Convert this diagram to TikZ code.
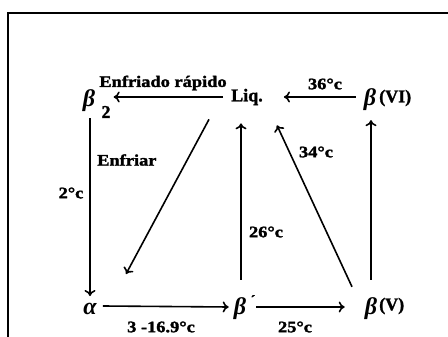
\documentclass[tikz,border=0pt]{standalone}
\usepackage{fontspec}
\setmainfont{Liberation Serif}[BoldFeatures={FakeBold=1.6}]
\newfontfamily\widefont{Liberation Serif}[FakeStretch=1.15,BoldFeatures={FakeBold=1.8}]
\usetikzlibrary{arrows.meta,calc}
\tikzset{
  lbl/.style={font=\fontsize{18}{20}\selectfont\bfseries, inner sep=0pt},
  sym/.style={font=\fontsize{24}{26}\selectfont\bfseries\itshape, inner sep=0pt},
  elbl/.style={font=\widefont\fontsize{16}{18}\selectfont\bfseries, inner sep=0pt},
  arr/.style={line width=1.6pt, -{To[length=6pt,width=11pt,line width=1.6pt]}},
  frame/.style={line width=1.3pt}
}
\begin{document}
\begin{tikzpicture}[x=1pt,y=-1pt]
\useasboundingbox (0,0) rectangle (448,337);
\draw[frame] (8,337) -- (8,13) -- (448,13);
% nodes
\node[sym] (b2) at (89,101) {β};
\node[lbl] (b2s) at (106,112) {2};
\node[lbl] (liq) at (247,97) {Liq.};
\node[sym] (b6) at (370,100) {β};
\node[lbl,anchor=west] (b6t) at (379,98) {(VI)};
\node[sym] (al) at (90,309) {α};
\node[sym] (bp) at (240,309) {β};
\node[lbl] (bpp) at (253,300) {\fontsize{14}{14}\selectfont ´};
\node[sym] (b5) at (371,309) {β};
\node[lbl,anchor=west] (b5t) at (379,306) {(V)};
% labels
\node[elbl] (l1) at (163,83) {Enfriado rápido};
\node[elbl] (l2) at (325,84) {36°c};
\node[elbl,anchor=west] (l3) at (97,160) {Enfriar};
\node[elbl] (l4) at (71,193) {2°c};
\node[elbl] (l5) at (266,232) {26°c};
\node[elbl] (l6) at (316,152) {34°c};
\node[elbl] (l7) at (161,327) {3 -16.9°c};
\node[elbl] (l8) at (295,327) {25°c};
% connectors
\draw[arr] ($(liq.west)+(-8,0)$) -- ($(b2s.east)+(3,-15)$);
\draw[arr] ($(b6.west)+(-8,-3)$) -- ($(liq.east)+(21,0)$);
\draw[arr] ($(b2.south)+(1,6)$) -- ($(al.north)+(0,-7)$);
\draw[arr] ($(liq.south)+(-38,14)$) -- ($(al.north)+(36,-29)$);
\draw[arr] ($(bp.north)+(1,-18)$) -- ($(liq.south)+(-6,18)$);
\draw[arr] ($(b5.north)+(-19,-11)$) -- ($(liq.south)+(30,20)$);
\draw[arr] ($(b5.north)+(0,-18)$) -- ($(b6.south)+(1,9)$);
\draw[arr] ($(al.east)+(6,-3)$) -- ($(bp.west)+(-5,-2)$);
\draw[arr] ($(bp.east)+(10,-2)$) -- ($(b5.west)+(-20,-2)$);
\end{tikzpicture}
\end{document}
